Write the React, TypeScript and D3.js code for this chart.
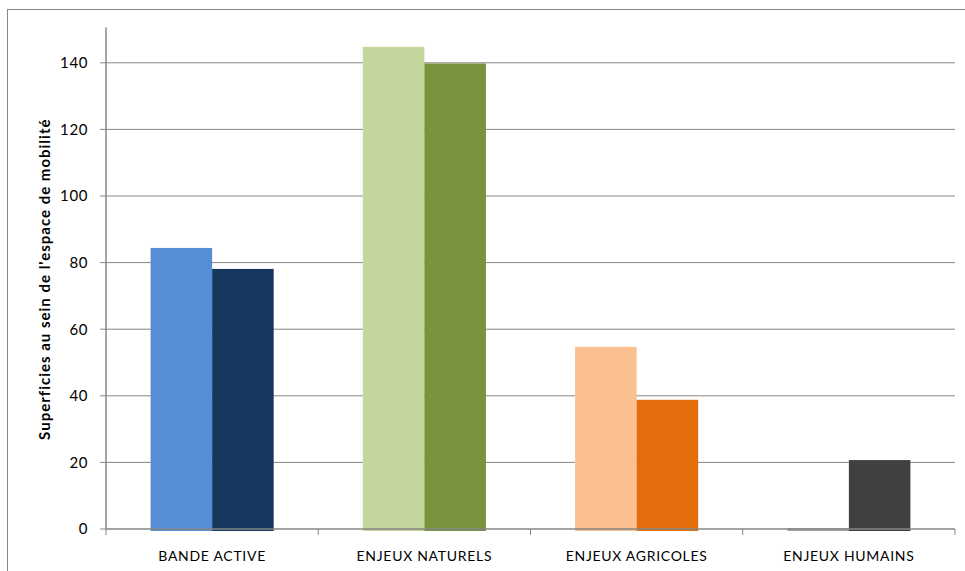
import React from "react";
import * as d3 from "d3";

const categories = ["BANDE ACTIVE", "ENJEUX NATURELS", "ENJEUX AGRICOLES", "ENJEUX HUMAINS"];
const series1 = [84.4, 144.8, 54.7, 0.3];
const series2 = [78.1, 139.8, 38.8, 20.7];
const colors1 = ["#558ED5", "#C3D69B", "#FAC090", "#A6A6A6"];
const colors2 = ["#17375E", "#77933C", "#E46C0A", "#404040"];
const yTicks = [0, 20, 40, 60, 80, 100, 120, 140];
const yTitle = "Superficies au sein de l'espace de mobilité";

const W = 965;
const H = 571;
const left = 106;
const right = 955;
const top = 29.5;
const bottom = 529;

export default function App() {
  const x = d3.scaleBand<string>().domain(categories).range([left, right]).padding(0);
  const y = d3.scaleLinear().domain([0, 150]).range([bottom, top]);
  const bw = x.bandwidth();
  const gw = bw * 0.58;
  const inner = d3.scaleBand<number>().domain([0, 1]).range([(bw - gw) / 2, (bw + gw) / 2]).padding(0);
  const grid = "#868686";
  const font = "Lato, 'Open Sans', sans-serif";
  const bounds = x.domain().map((c) => x(c) as number).concat([right]);

  return (
    <svg width={W} height={H} style={{ position: "absolute", left: 0, top: 0, display: "block", background: "#fff" }}>
      <rect x={7.5} y={9.5} width={W} height={H} fill="none" stroke="#888" strokeWidth={1} />
      {yTicks.map((t) => (
        <g key={t}>
          {t !== 0 && <line x1={left} x2={right} y1={y(t)} y2={y(t)} stroke={grid} strokeWidth={1} />}
          <line x1={left - 6} x2={left} y1={y(t)} y2={y(t)} stroke={grid} strokeWidth={1} />
          <text x={88} y={y(t)} dy="0.36em" textAnchor="end" fontFamily={font} fontSize={15} letterSpacing={0.6} fill="#000">
            {t}
          </text>
        </g>
      ))}
      {categories.map((c, i) => (
        <g key={c}>
          <rect
            x={(x(c) as number) + (inner(0) as number)}
            y={y(series1[i])}
            width={inner.bandwidth()}
            height={bottom - y(series1[i]) + 2}
            fill={colors1[i]}
          />
          <rect
            x={(x(c) as number) + (inner(1) as number)}
            y={y(series2[i])}
            width={inner.bandwidth()}
            height={bottom - y(series2[i]) + 2}
            fill={colors2[i]}
          />
          <text
            x={(x(c) as number) + bw / 2}
            y={561}
            textAnchor="middle"
            fontFamily={font}
            fontSize={14}
            letterSpacing={0.7}
            fill="#000"
          >
            {c}
          </text>
        </g>
      ))}
      <line x1={left} x2={right} y1={bottom} y2={bottom} stroke={grid} strokeWidth={1.5} />
      <line x1={left} x2={left} y1={top - 2} y2={bottom} stroke={grid} strokeWidth={1.5} />
      {bounds.map((b, i) => (
        <line key={i} x1={b} x2={b} y1={bottom} y2={bottom + 6} stroke={grid} strokeWidth={1} />
      ))}
      <text
        transform={`translate(50, ${(top + bottom) / 2}) rotate(-90)`}
        textAnchor="middle"
        fontFamily={font}
        fontWeight="bold"
        fontSize={15}
        letterSpacing={1}
        fill="#000"
      >
        {yTitle}
      </text>
    </svg>
  );
}
